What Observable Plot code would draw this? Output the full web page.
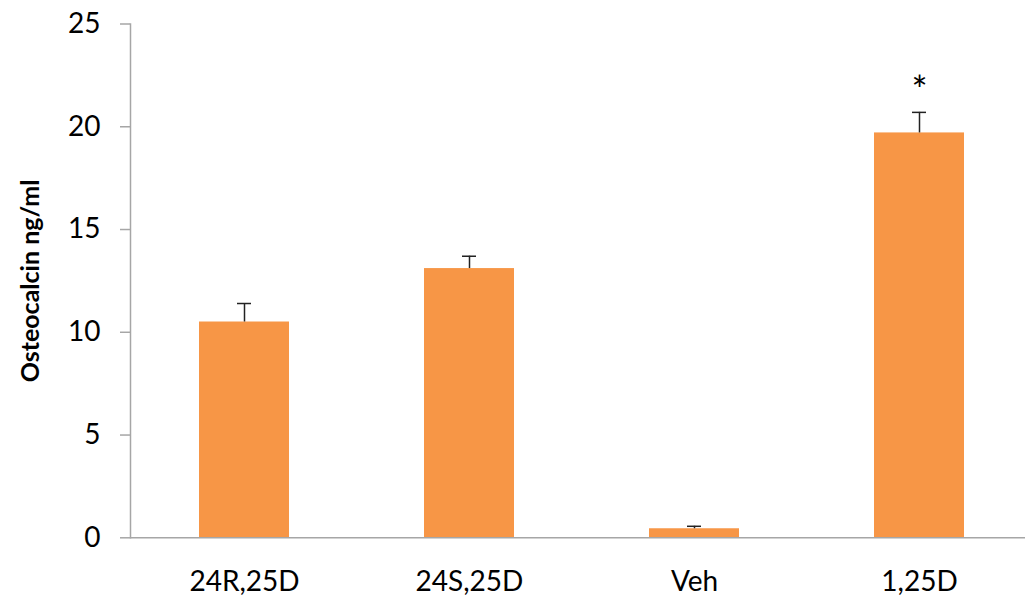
<!DOCTYPE html>
<html>
<head>
<meta charset="utf-8">
<script src="https://cdn.jsdelivr.net/npm/d3@7"></script>
<script src="https://cdn.jsdelivr.net/npm/@observablehq/plot@0.6"></script>
<style>
  html, body { margin: 0; padding: 0; background: #fff; }
  #chart svg { display: block; }
</style>
</head>
<body>
<div id="chart"></div>
<script>
// Osteocalcin secretion by treatment (mean with upper error bar)
const treatments = ["24R,25D", "24S,25D", "Veh", "1,25D"];
const means = [10.5, 13.1, 0.44, 19.7];
const errors = [0.9, 0.6, 0.12, 1.0];
const marks = ["", "", "", "*"];
const yTicks = [0, 5, 10, 15, 20, 25];
const yTitle = "Osteocalcin ng/ml";

const rows = treatments.map((t, i) => ({
  treatment: t,
  mean: means[i],
  upper: means[i] + errors[i],
  mark: marks[i]
}));

const axisColor = "#a6a6a6";
const font = "Lato, 'Open Sans', sans-serif";

const chart = Plot.plot({
  width: 1025,
  height: 601,
  marginTop: 23.5,
  marginBottom: 63.7,
  marginLeft: 130,
  marginRight: 0,
  style: { fontFamily: font, background: "#fff" },
  x: { domain: treatments, range: [130, 1032], paddingInner: 0.6, paddingOuter: 0.3 },
  y: { domain: [0, 25] },
  marks: [
    Plot.barY(rows, { x: "treatment", y: "mean", fill: "#f79646" }),
    Plot.ruleX(rows, { x: "treatment", y1: "mean", y2: "upper", stroke: "#222", strokeWidth: 1.5 }),
    Plot.tickY(rows, { x: "treatment", y: "upper", stroke: "#222", strokeWidth: 1.5, insetLeft: 38, insetRight: 38 }),
    Plot.text(rows, { x: "treatment", y: "upper", text: "mark", dy: -21, fontSize: 38, fill: "#000", lineAnchor: "middle" }),
    Plot.ruleY([0], { stroke: axisColor, strokeWidth: 1.5 }),
    Plot.frame({ anchor: "left", stroke: axisColor, strokeWidth: 1.5 }),
    Plot.axisY({
      ticks: yTicks, tickSize: 10, tickPadding: 20, fontSize: 28,
      stroke: axisColor, strokeWidth: 1.5, color: "#000", label: null
    }),
    Plot.axisX({ tickSize: 0, tickPadding: 33, fontSize: 28, color: "#000", label: null }),
    Plot.text([yTitle], {
      frameAnchor: "left", dx: -100, rotate: -90, fontSize: 25,
      fontWeight: "bold", fill: "#000", textAnchor: "middle", lineAnchor: "middle"
    })
  ]
});

document.getElementById("chart").appendChild(chart);
</script>
</body>
</html>
